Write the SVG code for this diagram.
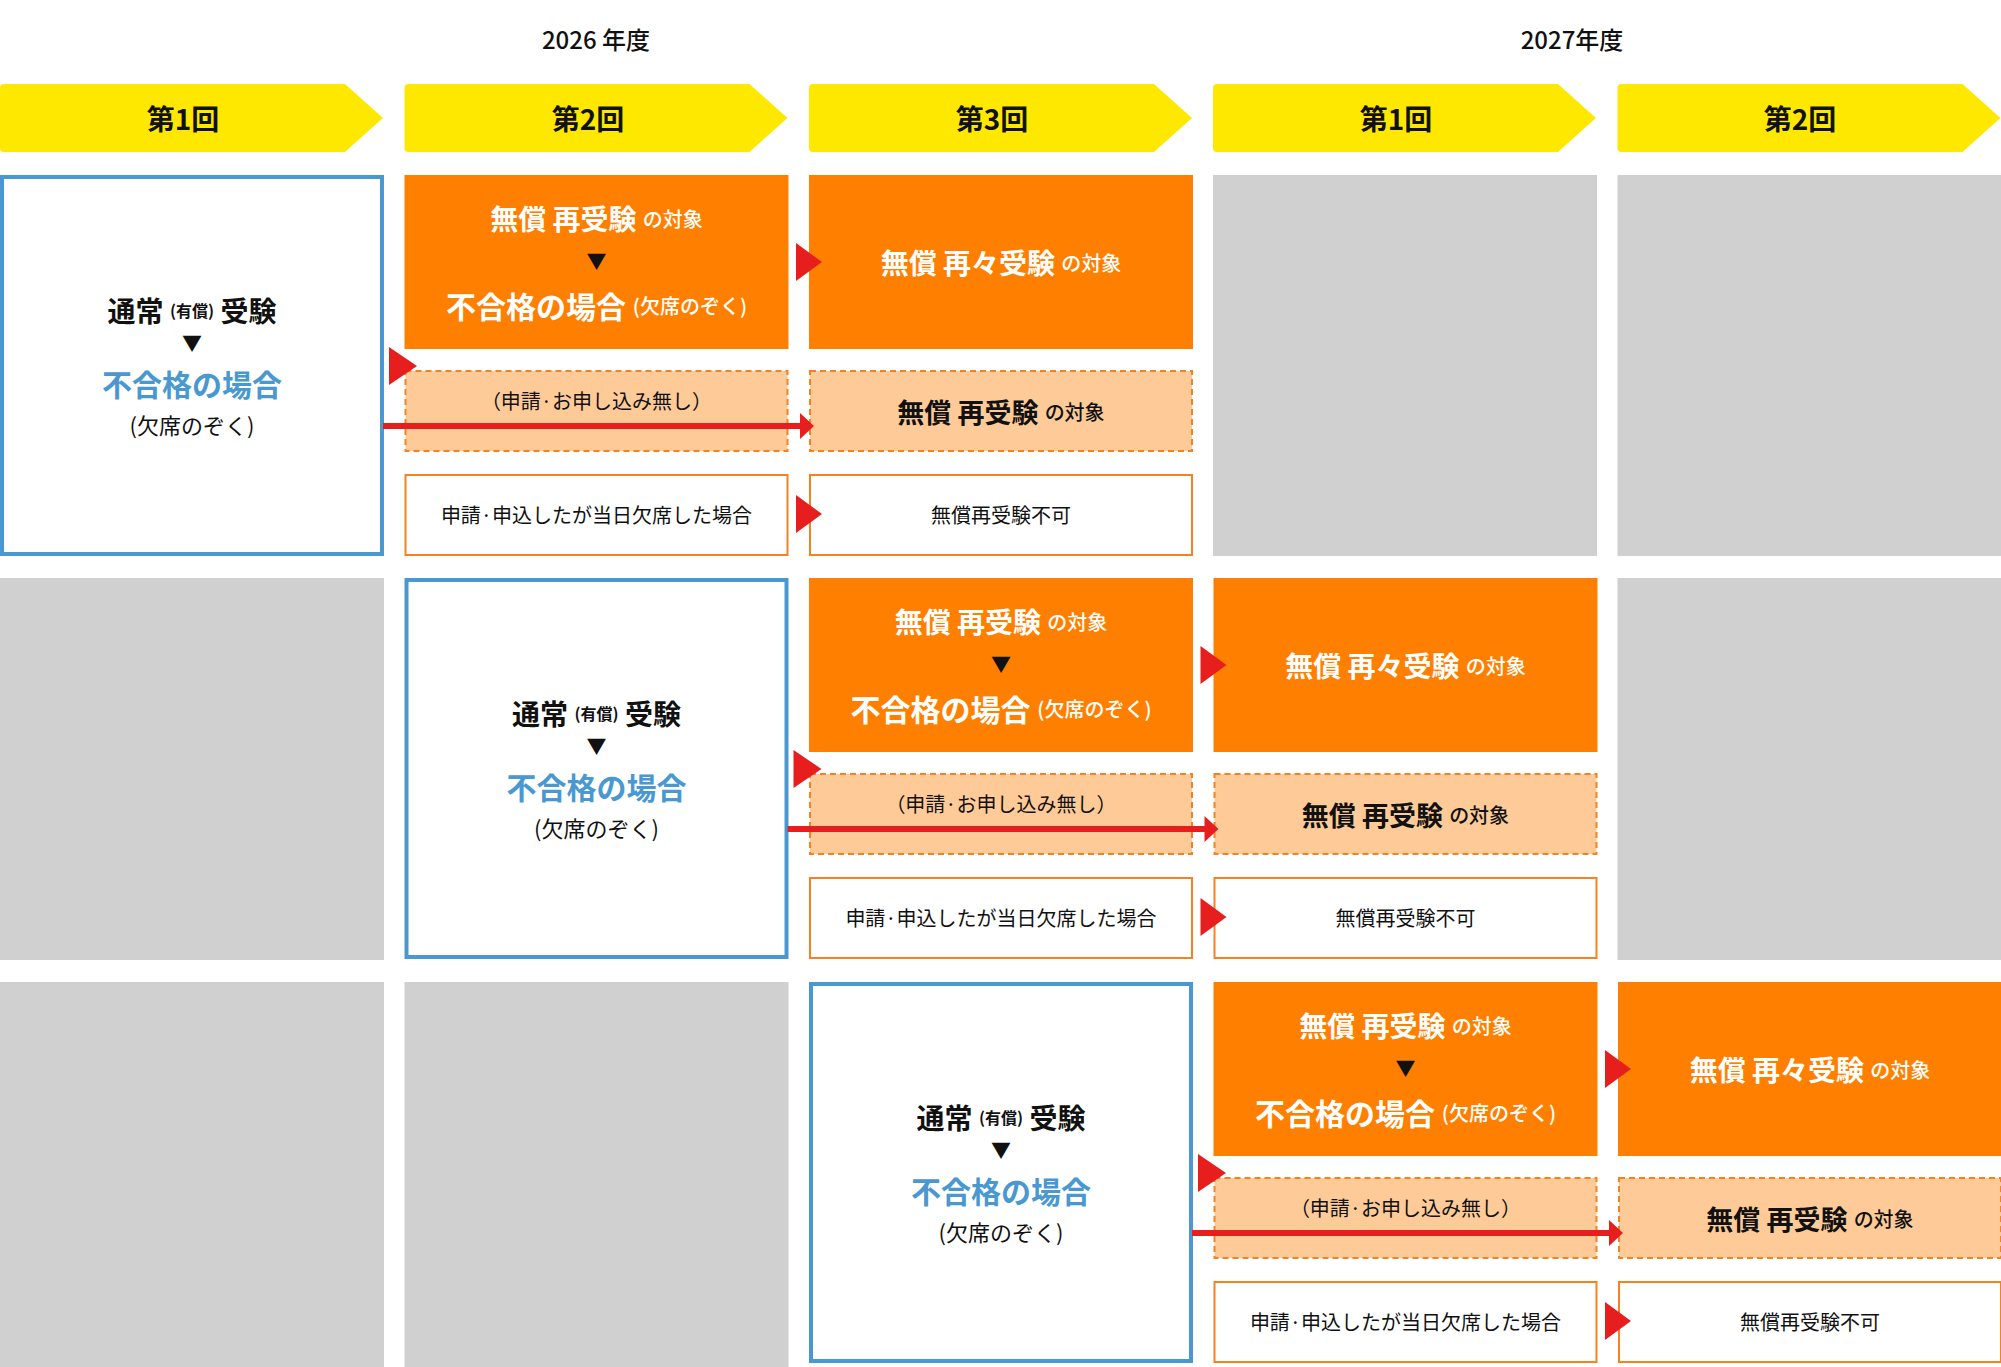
<svg xmlns="http://www.w3.org/2000/svg" width="2001" height="1367" viewBox="0 0 2001 1367">
<style>
text{font-family:"Noto Sans CJK JP","Noto Sans",sans-serif;text-anchor:middle;dominant-baseline:central}
.hd{fill:#ffe800}
.ht{font-size:28px;font-weight:700;fill:#111}
.yr{font-size:24px;font-weight:500;fill:#111}
.gray{fill:#d0d0d0}
.blue{fill:#fff;stroke:#4a98d0;stroke-width:4}
.org{fill:#ff8000}
.dash{fill:#fecb98;stroke:#f5821f;stroke-width:2;stroke-dasharray:6 4}
.wht{fill:#fff;stroke:#f5821f;stroke-width:2}
.red{fill:#e61e1e}
.b{font-weight:700}
.w{fill:#fff}
.k{fill:#111}
</style>
<defs>
<g id="rowtpl">
<g id="blue">
<rect class="blue" x="2" y="2" width="380" height="377"/>
<text x="192" y="135" class="k b" font-size="28">通常 <tspan font-size="16">(有償)</tspan> 受験</text>
<text x="192" y="167" class="k" font-size="20">▼</text>
<text x="192" y="208" class="b" font-size="30" fill="#4a98d0">不合格の場合</text>
<text x="192" y="249" class="k" font-size="22">(欠席のぞく)</text>
</g>
<g id="o1">
<rect class="org" x="404.5" y="0" width="384" height="174"/>
<text x="596.5" y="43" class="w b" font-size="28">無償 再受験 <tspan font-size="20" font-weight="500">の対象</tspan></text>
<text x="596.5" y="85" class="k" font-size="20">▼</text>
<text x="596.5" y="130" class="w b" font-size="30">不合格の場合 <tspan font-size="20" font-weight="500">(欠席のぞく)</tspan></text>
</g>
<g id="o2">
<rect class="org" x="809" y="0" width="384" height="174"/>
<text x="1001" y="87" class="w b" font-size="28">無償 再々受験 <tspan font-size="20" font-weight="500">の対象</tspan></text>
</g>
<g id="d1">
<rect class="dash" x="405.5" y="196" width="382" height="80"/>
<text x="596.5" y="225" class="k" font-size="20">（申請·お申し込み無し）</text>
</g>
<g id="d2">
<rect class="dash" x="810" y="196" width="382" height="80"/>
<text x="1001" y="236" class="k b" font-size="27">無償 再受験 <tspan font-size="20" font-weight="500">の対象</tspan></text>
</g>
<g id="w1">
<rect class="wht" x="405.5" y="300" width="382" height="80"/>
<text x="596.5" y="339" class="k" font-size="20">申請·申込したが当日欠席した場合</text>
</g>
<g id="w2">
<rect class="wht" x="810" y="300" width="382" height="80"/>
<text x="1001" y="339" class="k" font-size="20">無償再受験不可</text>
</g>
<g id="conn">
<line x1="383" y1="251" x2="802" y2="251" stroke="#e61e1e" stroke-width="6"/>
<polygon class="red" points="800,238 800,264 814,251"/>
<polygon class="red" points="389,172 389,210 417,191"/>
<polygon class="red" points="796,68 796,106 822,87"/>
<polygon class="red" points="796,320 796,358 822,339"/>
</g>
</g>
</defs>
<text class="yr" x="596" y="38">2026 年度</text>
<text class="yr" x="1572" y="38">2027年度</text>
<g id="headers">
<path class="hd" d="M0,88 Q0,84 4,84 H345 L383,118 L345,152 H4 Q0,152 0,148 Z"/>
<text class="ht" x="183" y="118">第1回</text>
<path class="hd" d="M404.5,88 Q404.5,84 408.5,84 H749.5 L787.5,118 L749.5,152 H408.5 Q404.5,152 404.5,148 Z"/>
<text class="ht" x="588" y="118">第2回</text>
<path class="hd" d="M809,88 Q809,84 813,84 H1154 L1192,118 L1154,152 H813 Q809,152 809,148 Z"/>
<text class="ht" x="992" y="118">第3回</text>
<path class="hd" d="M1213,88 Q1213,84 1217,84 H1558 L1596,118 L1558,152 H1217 Q1213,152 1213,148 Z"/>
<text class="ht" x="1396" y="118">第1回</text>
<path class="hd" d="M1617.5,88 Q1617.5,84 1621.5,84 H1962.5 L2000.5,118 L1962.5,152 H1621.5 Q1617.5,152 1617.5,148 Z"/>
<text class="ht" x="1800" y="118">第2回</text>
</g>
<g id="grays">
<rect class="gray" x="1213" y="175" width="384" height="381"/>
<rect class="gray" x="1617.5" y="175" width="384" height="381"/>
<rect class="gray" x="0" y="578" width="384" height="382"/>
<rect class="gray" x="1617.5" y="578" width="384" height="382"/>
<rect class="gray" x="0" y="982" width="384" height="385"/>
<rect class="gray" x="404.5" y="982" width="384" height="385"/>
</g>
<g id="row1" transform="translate(0,175)"><use href="#rowtpl"/></g>
<g id="row2" transform="translate(404.5,578)"><use href="#rowtpl"/></g>
<g id="row3" transform="translate(809,982)"><use href="#rowtpl"/></g>
</svg>
